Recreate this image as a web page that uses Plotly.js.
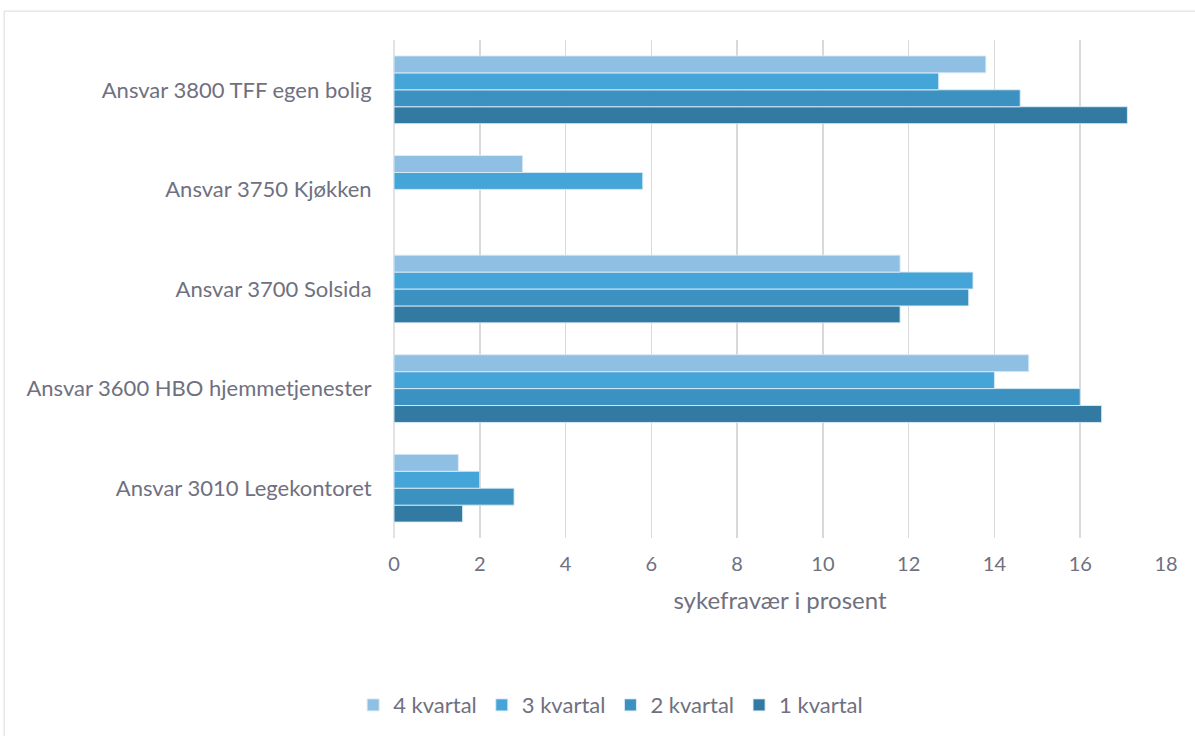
<!DOCTYPE html>
<html>
<head>
<meta charset="utf-8">
<script src="https://cdn.plot.ly/plotly-3.0.1.min.js"></script>
<style>
html,body{margin:0;padding:0;background:#fff;}
#chart{width:1195px;height:736px;}
</style>
</head>
<body>
<div id="chart"></div>
<script>
const categories = [
  'Ansvar 3010 Legekontoret',
  'Ansvar 3600 HBO hjemmetjenester',
  'Ansvar 3700 Solsida',
  'Ansvar 3750 Kjøkken',
  'Ansvar 3800 TFF egen bolig'
];
const kvartal1 = [1.6, 16.5, 11.8, null, 17.1];
const kvartal2 = [2.8, 16.0, 13.4, null, 14.6];
const kvartal3 = [2.0, 14.0, 13.5, 5.8, 12.7];
const kvartal4 = [1.5, 14.8, 11.8, 3.0, 13.8];
const seriesNames = ['1 kvartal', '2 kvartal', '3 kvartal', '4 kvartal'];
const xTicks = [0, 2, 4, 6, 8, 10, 12, 14, 16, 18];

const colors = ['#327aa2', '#3b91bf', '#45a5d8', '#8fbfe3'];
const series = [kvartal1, kvartal2, kvartal3, kvartal4];

const traces = series.map((vals, i) => ({
  type: 'bar',
  orientation: 'h',
  name: seriesNames[i],
  y: categories,
  x: vals,
  marker: {color: colors[i], line: {color: 'rgba(220,235,245,0.9)', width: 1}},
  hoverinfo: 'x+name'
}));

const font = {family: 'Lato, "Open Sans", sans-serif', color: '#6f7080'};

const layout = {
  width: 1195, height: 736,
  margin: {l: 394, r: 29, t: 40, b: 198},
  paper_bgcolor: '#ffffff', plot_bgcolor: '#ffffff',
  barmode: 'group',
  bargap: 0.32,
  bargroupgap: 0,
  font: font,
  xaxis: {
    range: [0, 18],
    tickvals: xTicks,
    ticktext: xTicks.map(String),
    showgrid: true, gridcolor: '#d9d9d9', gridwidth: 1.5,
    zeroline: false,
    showline: false,
    ticks: 'outside', ticklen: 8, tickcolor: 'rgba(0,0,0,0)',
    tickfont: {size: 20, color: '#6f7080', family: font.family},
    title: {text: 'sykefravær i prosent', font: {size: 24, color: '#6f7080', family: font.family}, standoff: 18}
  },
  yaxis: {
    type: 'category',
    categoryorder: 'array', categoryarray: categories,
    showgrid: false, zeroline: false, showline: false,
    ticks: 'outside', ticklen: 17, tickcolor: 'rgba(0,0,0,0)',
    tickfont: {size: 22, color: '#6f7080', family: font.family}
  },
  legend: {
    orientation: 'h',
    traceorder: 'reversed',
    xref: 'container', yref: 'container',
    x: 0.511, xanchor: 'center',
    y: 0.042, yanchor: 'middle',
    font: {size: 22, color: '#6f7080', family: font.family},
    itemwidth: 30
  },
  shapes: [
    {type: 'line', xref: 'paper', yref: 'paper', x0: 0, x1: 0, y0: 0, y1: 1,
     line: {color: '#d9d9d9', width: 1.5}, layer: 'below'},
    {type: 'rect', xref: 'paper', yref: 'paper', x0: -0.505, x1: 1.2, y0: -0.6, y1: 1.058,
     line: {color: '#d9d9d9', width: 1}, fillcolor: 'rgba(0,0,0,0)'}
  ],
  showlegend: true
};

Plotly.newPlot('chart', traces, layout, {displayModeBar: false, staticPlot: true});
</script>
</body>
</html>
